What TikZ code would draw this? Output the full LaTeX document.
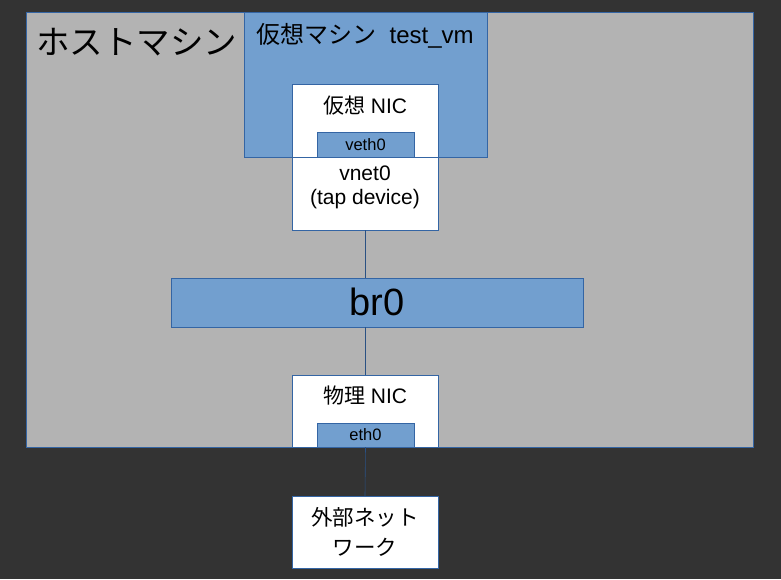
\documentclass[tikz,border=0pt]{standalone}
\usepackage{fontspec}
\setmainfont{Liberation Sans}
\newfontfamily\jp{Noto Sans CJK JP}
\definecolor{bgdark}{HTML}{333333}
\definecolor{hostgray}{HTML}{B3B3B3}
\definecolor{vmblue}{HTML}{729FCF}
\definecolor{bord}{HTML}{3465A4}
\begin{document}
\begin{tikzpicture}[x=1pt,y=-1pt,
  box/.style={draw=bord, line width=0.9pt, inner sep=0pt, outer sep=0pt, anchor=north west},
  conn/.style={draw=bord!80!black, line width=0.6pt},
  txt/.style={inner sep=0pt, align=center, text=black}]
\useasboundingbox (0,0) rectangle (781,579);
\fill[bgdark] (0,0) rectangle (781,579);
% boxes
\node[box, fill=hostgray, minimum width=727pt, minimum height=435pt] (host) at (26,12) {};
\node[box, fill=vmblue, minimum width=243pt, minimum height=145pt] (vm) at (244,12) {};
\node[box, fill=white, minimum width=146pt, minimum height=73pt] (vnic) at (292,84) {};
\node[box, fill=white, minimum width=146pt, minimum height=73pt] (vnet) at (292,157) {};
\node[box, fill=vmblue, minimum width=97pt, minimum height=25pt] (veth) at (317,132) {};
\node[box, fill=vmblue, minimum width=412pt, minimum height=49pt] (br) at (171,278) {};
\node[box, fill=white, minimum width=146pt, minimum height=72pt] (phys) at (292,375) {};
\node[box, fill=vmblue, minimum width=97pt, minimum height=24pt] (eth) at (317,423) {};
\node[box, fill=white, minimum width=146pt, minimum height=72pt] (ext) at (292,496) {};
% connectors
\draw[conn] (vnet.south) -- (vnet.south |- br.north);
\draw[conn] (br.south -| phys.north) -- (phys.north);
\draw[conn] (eth.south) -- (ext.north);
% texts
\node[txt, anchor=west, font=\jp\fontsize{33.5}{36}\selectfont] (thost) at (36,42) {ホストマシン};
\node[txt, font=\fontsize{24}{28}\selectfont] (tvm) at (365,36) {{\jp 仮想マシン}\ \ test\_vm};
\node[txt, font=\fontsize{21}{24}\selectfont] (tvnic) at (365,106) {{\jp 仮想} NIC};
\node[txt, font=\fontsize{16.5}{19}\selectfont] (tveth) at (365.5,145) {veth0};
\node[txt, font=\fontsize{21}{24}\selectfont] (tvnet) at (365,187) {vnet0\\(tap device)};
\node[txt, font=\fontsize{38}{42}\selectfont] (tbr) at (377,302) {br0};
\node[txt, font=\fontsize{21}{24}\selectfont] (tphys) at (365,396) {{\jp 物理} NIC};
\node[txt, font=\fontsize{16.5}{19}\selectfont] (teth) at (365.5,435) {eth0};
\node[txt, font=\jp\fontsize{21.5}{30}\selectfont] (text) at (365,532) {外部ネット\\ワーク};
\end{tikzpicture}
\end{document}
